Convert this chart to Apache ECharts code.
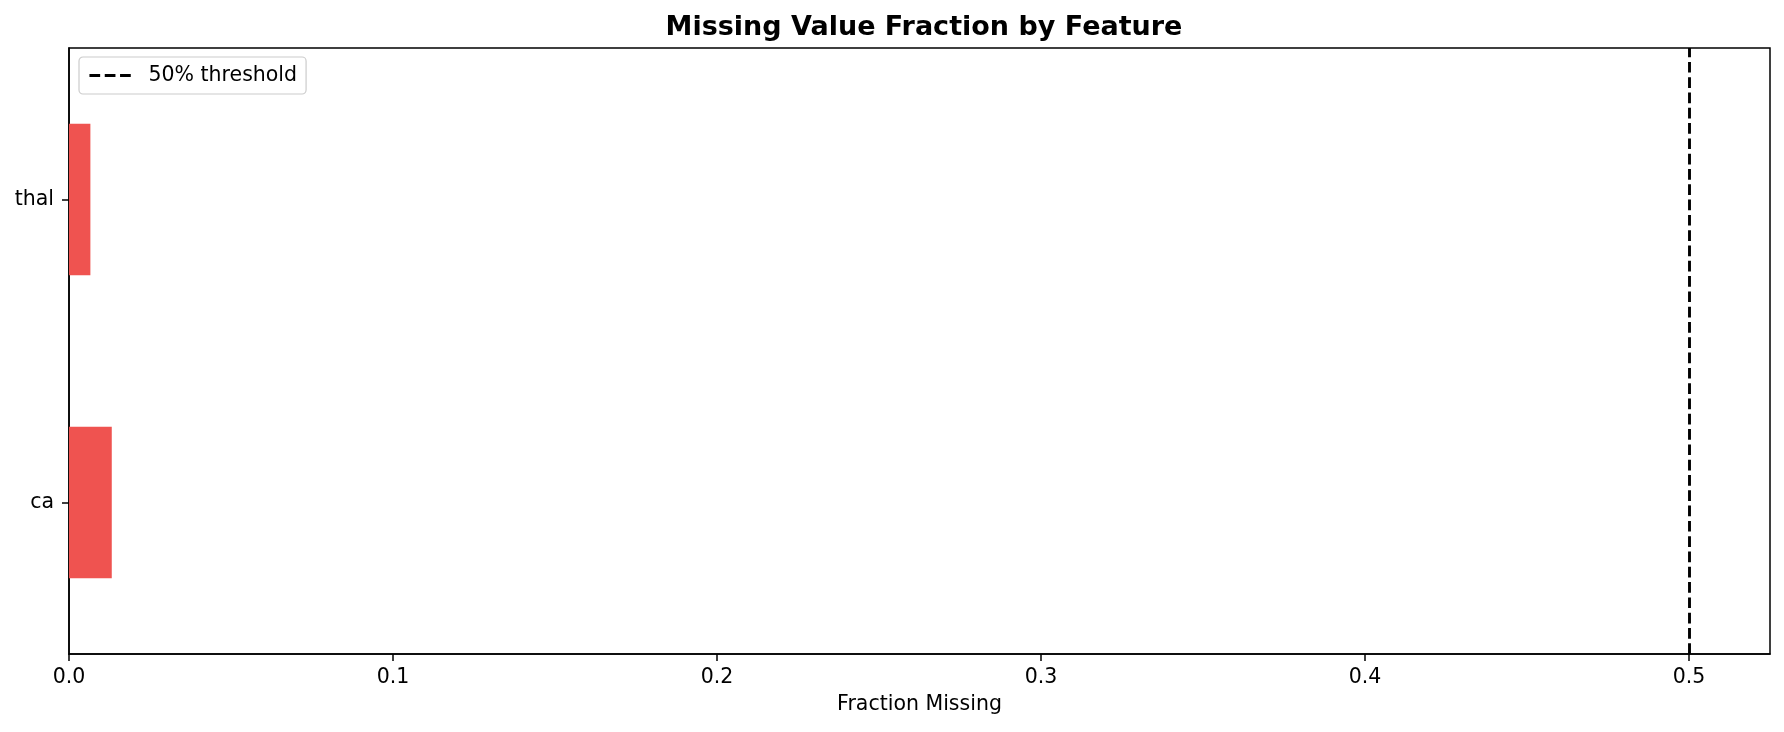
<!DOCTYPE html>
<html>
<head>
<meta charset="utf-8">
<script src="https://cdn.jsdelivr.net/npm/echarts@6/dist/echarts.min.js"></script>
<style>html,body{margin:0;padding:0;background:#fff}#c{width:1784px;height:732px}</style>
</head>
<body>
<div id="c"></div>
<script>
const categories = ['ca', 'thal'];
const fractionMissing = [0.0132, 0.0066];
const threshold = 0.5;
const xTicks = [0, 0.1, 0.2, 0.3, 0.4, 0.5];
const xMax = 0.525;

const FONT = 'DejaVu Sans';
const FS = 20.5;
const DASH = [10.7, 4.6];
const chart = echarts.init(document.getElementById('c'), null, {renderer: 'canvas'});
chart.setOption({
  animation: false,
  backgroundColor: '#fff',
  title: {
    text: 'Missing Value Fraction by Feature',
    left: 919, textAlign: 'center', top: 9,
    textStyle: {fontFamily: FONT, fontSize: 27, fontWeight: 'bold', color: '#000'}
  },
  legend: {
    left: 79, top: 57,
    padding: [8, 9, 8, 9],
    borderColor: '#cccccc', borderWidth: 1.2, borderRadius: 4,
    backgroundColor: '#fff',
    itemWidth: 42, itemHeight: 14,
    itemStyle: {opacity: 0},
    lineStyle: {color: '#000', width: 2.9, type: DASH},
    textStyle: {fontFamily: FONT, fontSize: FS, color: '#000', padding: [0, 0, 0, 12]},
    data: ['50% threshold']
  },
  grid: {
    left: 69, right: 14, top: 48, bottom: 78,
    show: true, borderColor: '#000', borderWidth: 1.5, backgroundColor: 'transparent'
  },
  xAxis: {
    type: 'value', min: 0, max: xMax,
    name: 'Fraction Missing', nameLocation: 'middle', nameGap: 40,
    nameTextStyle: {fontFamily: FONT, fontSize: FS, color: '#000'},
    axisLine: {show: true, lineStyle: {color: '#000', width: 1.5}},
    axisTick: {show: true, customValues: xTicks, length: 7, lineStyle: {color: '#000', width: 1.5}},
    axisLabel: {customValues: xTicks, margin: 13, fontFamily: FONT, fontSize: FS, color: '#000',
      formatter: v => v.toFixed(1)},
    splitLine: {show: false}
  },
  yAxis: {
    type: 'category', data: categories,
    axisLine: {show: true, lineStyle: {color: '#000', width: 1.5}},
    axisTick: {show: true, alignWithLabel: true, length: 7, lineStyle: {color: '#000', width: 1.5}},
    axisLabel: {margin: 15, fontFamily: FONT, fontSize: FS, color: '#000', padding: [5, 0, 0, 0]},
    splitLine: {show: false}
  },
  series: [
    {
      type: 'bar', name: 'Fraction Missing', data: fractionMissing,
      barWidth: '50%', itemStyle: {color: '#EF5350'}
    },
    {
      type: 'line', name: '50% threshold', data: [],
      symbol: 'none',
      lineStyle: {color: '#000', width: 2.9, type: DASH},
      itemStyle: {color: '#000'},
      markLine: {
        silent: true, symbol: 'none',
        label: {show: false},
        lineStyle: {color: '#000', width: 2.9, type: DASH},
        data: [{xAxis: threshold}]
      }
    }
  ]
});
</script>
</body>
</html>
